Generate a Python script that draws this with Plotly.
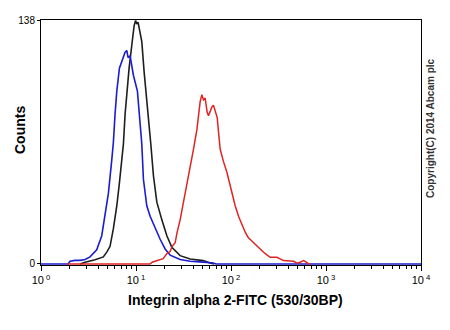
import plotly.graph_objects as go

# Fluorescence values (log axis) and counts
blue_x = [1.0, 1.93, 2.02, 2.28, 2.58, 2.91, 3.28, 3.86, 4.36, 4.72, 5.12, 5.56, 5.78, 6.02, 6.28,
          6.69, 7.37, 7.68, 8.00, 8.26, 8.67, 9.39, 10.35, 11.05, 11.51, 11.97, 12.99, 14.08,
          15.90, 17.95, 20.26, 22.87, 29.15, 37.17, 47.36, 56.13, 64.93, 69.8, 10000]
blue_y = [0, 0, 1.5, 2, 2, 2.5, 4, 8, 16, 27, 40, 59, 69, 85, 98,
          111, 118, 120, 121, 117, 118, 107, 98, 79, 68, 48, 33, 27,
          20, 14, 8.5, 5, 2.5, 1.5, 1.2, 1, 0.5, 0, 0]

black_x = [2.58, 2.91, 3.71, 4.53, 4.96, 5.33, 5.78, 6.28, 6.69, 7.09, 7.37, 7.68, 8.00, 8.46,
           9.03, 9.55, 9.90, 10.19, 10.52, 10.86, 11.51, 12.17, 12.99, 13.84, 14.32, 15.26,
           16.57, 18.71, 21.12, 23.84, 29.15, 37.17, 50.94, 60.37, 66.53]
black_y = [0, 1, 2.4, 4, 7, 10, 20, 33, 46, 61, 68, 85, 98, 111,
           124, 135, 138, 136, 137, 133, 126, 109, 94, 77, 68, 50,
           35, 25, 16, 9.4, 4.7, 2.8, 1.9, 0.5, 0]

red_x = [1.88, 14.08, 14.78, 17.95, 19.30, 21.27, 22.87, 24.02, 25.82, 27.11, 29.15, 31.59,
         34.30, 37.17, 40.26, 43.72, 45.45, 47.36, 49.37, 51.31, 53.46, 56.13, 57.93, 60.37,
         62.91, 65.40, 69.33, 71.55, 73.85, 76.95, 83.37, 90.54, 96.43, 102.2, 110.7, 120.0,
         130.3, 141.1, 151.8, 166.1, 187.5, 203.1, 220.0, 240.7, 258.9, 304.6, 330.0, 357.5,
         455.6, 494.9, 536.2, 580.8, 620.1, 655.6, 683.4]
red_y = [0, 0, 1, 2.5, 3, 6, 7, 10, 12, 18, 25, 35,
         46, 56, 65, 76, 86, 92, 96, 93, 94, 86, 84, 87,
         89, 90, 85, 83, 75, 65, 58, 52, 46, 40, 33, 27,
         22, 18, 15, 13, 10, 8, 6.6, 5, 3.8, 3.8, 2.8, 1.9,
         1.5, 0.4, 1, 1.9, 1, 0, 0]

x_tickvals = [1, 10, 100, 1000, 10000]
x_ticktext = ["10<sup> 0</sup>", "10<sup> 1</sup>", "10<sup> 2</sup>", "10<sup> 3</sup>", "10<sup> 4</sup>"]
y_tickvals = [0, 138]
y_ticktext = ["0", "138"]

minor_vals = [m * 10 ** d for d in range(4) for m in range(2, 10)]

FONT = "Liberation Sans, Arial, sans-serif"

fig = go.Figure()
fig.add_trace(go.Scatter(x=black_x, y=black_y, mode="lines",
                         line=dict(color="#1e1e1e", width=1.6), showlegend=False))
fig.add_trace(go.Scatter(x=blue_x, y=blue_y, mode="lines",
                         line=dict(color="#1c1cd0", width=1.6), showlegend=False))
fig.add_trace(go.Scatter(x=red_x, y=red_y, mode="lines",
                         line=dict(color="#e02424", width=1.5), showlegend=False))

fig.update_layout(
    width=450, height=330,
    margin=dict(l=41, r=29, t=20, b=65),
    paper_bgcolor="white", plot_bgcolor="white",
    font=dict(family=FONT, size=10, color="black"),
    xaxis=dict(type="log", range=[0, 4], tickmode="array",
               tickvals=x_tickvals, ticktext=x_ticktext,
               ticks="outside", ticklen=5, tickcolor="black",
               showline=True, linecolor="black", linewidth=1, mirror=True,
               showgrid=False, zeroline=False,
               tickfont=dict(family=FONT, size=11),
               minor=dict(tickvals=minor_vals, ticks="outside", ticklen=3,
                          tickcolor="black", showgrid=False)),
    yaxis=dict(range=[-0.6, 138.3], tickmode="array",
               tickvals=y_tickvals, ticktext=y_ticktext,
               ticks="outside", ticklen=3, tickcolor="black",
               showline=True, linecolor="black", linewidth=1, mirror=True,
               showgrid=False, zeroline=False,
               tickfont=dict(family=FONT, size=10)),
    annotations=[
        dict(text="<b>Integrin alpha 2-FITC (530/30BP)</b>", xref="paper", yref="paper",
             x=(235 - 41) / 380, y=-(300 - 265) / 245, xanchor="center", yanchor="middle",
             showarrow=False, font=dict(family=FONT, size=14, color="black")),
        dict(text="<b>Counts</b>", xref="paper", yref="paper",
             x=(20 - 41) / 380, y=(265 - 130) / 245, xanchor="center", yanchor="middle",
             textangle=-90, showarrow=False, font=dict(family=FONT, size=14, color="black")),
        dict(text="<b>Copyright(C) 2014 Abcam plc</b>", xref="paper", yref="paper",
             x=(431 - 41) / 380, y=(265 - 128) / 245, xanchor="center", yanchor="middle",
             textangle=-90, showarrow=False, font=dict(family=FONT, size=10, color="#333333")),
    ],
)

fig.write_html("out.html", config={"displayModeBar": False},
               post_script="document.body.style.margin='0';document.body.style.padding='0';")
